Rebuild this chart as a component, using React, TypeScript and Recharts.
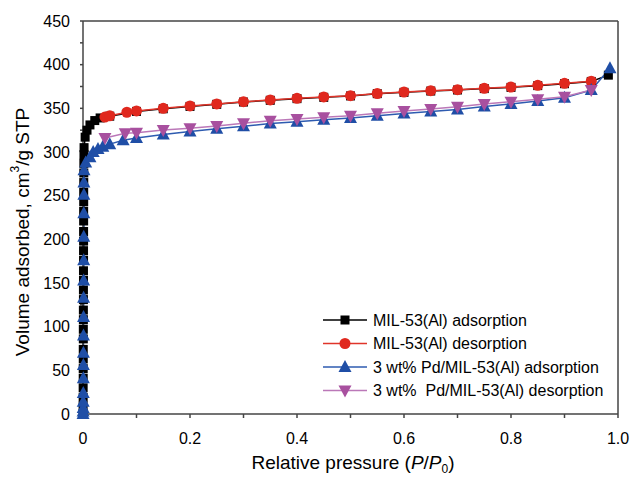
import React from 'react';
import { LineChart, Line, XAxis, YAxis, ReferenceLine } from 'recharts';

// ---- data (P/P0, volume adsorbed cm3/g STP) ----
const milAdsP = [0.0001, 0.0002, 0.0003, 0.0003, 0.0004, 0.0004, 0.0005, 0.0005, 0.0006, 0.0006, 0.0007, 0.0007, 0.0008, 0.0008, 0.0009, 0.0009, 0.001, 0.001, 0.0011, 0.0011, 0.0012, 0.0012, 0.0013, 0.0013, 0.0014, 0.0015, 0.0016, 0.0018, 0.002, 0.004, 0.0075, 0.013, 0.022, 0.032, 0.05, 0.1, 0.15, 0.2, 0.25, 0.3, 0.35, 0.4, 0.45, 0.5, 0.55, 0.6, 0.65, 0.7, 0.75, 0.8, 0.85, 0.9, 0.95, 0.982];
const milAdsV = [0, 9, 19, 30, 41, 52, 63, 74, 86, 97, 108, 119, 131, 142, 153, 164, 176, 187, 198, 209, 221, 232, 243, 254, 265, 276, 287, 297, 305, 317, 325, 331, 336, 339, 341, 346.5, 349.5, 352.2, 354.6, 357.2, 359.2, 361.1, 362.6, 364.2, 366.8, 368.3, 369.8, 371, 372.6, 374, 376, 378.2, 380.8, 388];

const milDesP = [0.041, 0.05, 0.082, 0.1, 0.15, 0.2, 0.25, 0.3, 0.35, 0.4, 0.45, 0.5, 0.55, 0.6, 0.65, 0.7, 0.75, 0.8, 0.85, 0.9, 0.95];
const milDesV = [340, 341.5, 345.5, 347, 350, 352.7, 355, 357.6, 359.6, 361.5, 363, 364.5, 367, 368.7, 370.2, 371.4, 373, 374.4, 376.4, 378.6, 381];

const pdAdsP = [0.0001, 0.0002, 0.0003, 0.0004, 0.0005, 0.0006, 0.0007, 0.0008, 0.0009, 0.001, 0.0011, 0.0012, 0.0013, 0.0014, 0.0015, 0.0016, 0.0017, 0.0019, 0.005, 0.013, 0.019, 0.028, 0.037, 0.05, 0.075, 0.1, 0.15, 0.2, 0.25, 0.3, 0.35, 0.4, 0.45, 0.5, 0.55, 0.6, 0.65, 0.7, 0.75, 0.8, 0.85, 0.9, 0.95, 0.985];
const pdAdsV = [0, 3, 7, 14, 24, 41, 56, 70, 90, 111, 133, 153, 176, 203, 230, 251, 265, 279, 288, 294, 300, 303.5, 306, 309, 313.5, 316, 320, 323.5, 326.5, 329.5, 332.5, 334.5, 337, 339, 341.5, 344, 346.5, 348.8, 352, 355, 358.5, 362, 371, 396];

const pdDesP = [0.041, 0.079, 0.1, 0.15, 0.2, 0.25, 0.3, 0.35, 0.4, 0.45, 0.5, 0.55, 0.6, 0.65, 0.7, 0.75, 0.8, 0.85, 0.9, 0.95];
const pdDesV = [316, 321.4, 322, 325.2, 327.1, 329.8, 332.9, 335.9, 337.8, 339.7, 341.6, 344.3, 346.9, 349.2, 351.9, 355, 357.6, 360.4, 363.3, 370.9];

const xTicks = [0, 0.1, 0.2, 0.3, 0.4, 0.5, 0.6, 0.7, 0.8, 0.9, 1.0];
const yTicks = [0, 25, 50, 75, 100, 125, 150, 175, 200, 225, 250, 275, 300, 325, 350, 375, 400, 425, 450];

const seriesNames = [
  'MIL-53(Al) adsorption',
  'MIL-53(Al) desorption',
  '3 wt% Pd/MIL-53(Al) adsorption',
  '3 wt%  Pd/MIL-53(Al) desorption',
];

const toPts = (ps: number[], vs: number[]) => ps.map((p, i) => ({ p, v: vs[i] }));
const milAds = toPts(milAdsP, milAdsV);
const milDes = toPts(milDesP, milDesV);
const pdAds = toPts(pdAdsP, pdAdsV);
const pdDes = toPts(pdDesP, pdDesV);

const C = {
  black: '#000000',
  red: '#e0281e',
  redLine: '#e0352a',
  blue: '#1f4ea6',
  blueLine: '#2e5bb0',
  purple: '#a8509f',
  purpleLine: '#bb78b8',
  axis: '#444444',
};

type Kind = 'square' | 'circle' | 'up' | 'down';

const Marker = ({ kind, cx, cy, color }: { kind: Kind; cx: number; cy: number; color: string }) => {
  if (kind === 'square') return <rect x={cx - 4.5} y={cy - 4.5} width={9} height={9} fill={color} />;
  if (kind === 'circle') return <circle cx={cx} cy={cy} r={5.5} fill={color} />;
  if (kind === 'up')
    return <polygon points={`${cx},${cy - 7} ${cx - 6.5},${cy + 5} ${cx + 6.5},${cy + 5}`} fill={color} />;
  return <polygon points={`${cx - 6.5},${cy - 5} ${cx + 6.5},${cy - 5} ${cx},${cy + 7}`} fill={color} />;
};

const dotFn = (kind: Kind, color: string) => (props: any) => {
  const { cx, cy, index } = props;
  if (cx == null || cy == null) return <g key={`n-${kind}-${index}`} />;
  return <Marker key={`${kind}-${index}`} kind={kind} cx={cx} cy={cy} color={color} />;
};

const legendItems: { kind: Kind; line: string; fill: string }[] = [
  { kind: 'square', line: C.black, fill: C.black },
  { kind: 'circle', line: C.redLine, fill: C.red },
  { kind: 'up', line: C.blueLine, fill: C.blue },
  { kind: 'down', line: C.purpleLine, fill: C.purple },
];

const fontFam = 'Arial, "Liberation Sans", Helvetica, sans-serif';

export default function App() {
  const tickStyle = { fontSize: 16, fill: '#000', fontFamily: fontFam };
  return (
    <div style={{ position: 'absolute', left: 0, top: 0, width: 630, height: 478, background: '#fff' }}>
      <LineChart width={630} height={478} margin={{ top: 21, right: 12, bottom: 0, left: 0 }}>
        <XAxis
          type="number"
          dataKey="p"
          domain={[0, 1]}
          ticks={xTicks}
          tickFormatter={(v: number) => {
            const k = Math.round(v * 10);
            if (k % 2 !== 0) return '';
            return k === 0 ? '0' : v.toFixed(1);
          }}
          height={64}
          tickSize={4}
          tickMargin={15}
          stroke={C.axis}
          strokeWidth={1.5}
          tick={tickStyle}
        />
        <YAxis
          type="number"
          domain={[0, 450]}
          ticks={yTicks}
          tickFormatter={(v: number) => (v % 50 === 0 ? String(v) : '')}
          width={83}
          tickSize={3}
          tickMargin={10}
          stroke={C.axis}
          strokeWidth={1.5}
          tick={tickStyle}
        />
        <ReferenceLine y={450} stroke={C.axis} strokeWidth={1.5} />
        <ReferenceLine x={1} stroke={C.axis} strokeWidth={1.5} />
        <Line data={milAds} dataKey="v" type="linear" stroke={C.black} strokeWidth={1.5} dot={dotFn('square', C.black)} isAnimationActive={false} />
        <Line data={milDes} dataKey="v" type="linear" stroke={C.redLine} strokeWidth={1.5} dot={dotFn('circle', C.red)} isAnimationActive={false} />
        <Line data={pdAds} dataKey="v" type="linear" stroke={C.blueLine} strokeWidth={1.5} dot={dotFn('up', C.blue)} isAnimationActive={false} />
        <Line data={pdDes} dataKey="v" type="linear" stroke={C.purpleLine} strokeWidth={1.5} dot={dotFn('down', C.purple)} isAnimationActive={false} />
      </LineChart>
      <svg width={630} height={478} style={{ position: 'absolute', left: 0, top: 0, pointerEvents: 'none' }}>
        <text x={22} y={232} transform="rotate(-90 22 232)" textAnchor="middle" dominantBaseline="central" fontSize={19} fontFamily={fontFam} fill="#000">
          Volume adsorbed, cm<tspan dy={-7} fontSize={12}>3</tspan>
          <tspan dy={7}>/g STP</tspan>
        </text>
        <text x={353} y={469} textAnchor="middle" fontSize={19} fontFamily={fontFam} fill="#000">
          Relative pressure (<tspan fontStyle="italic">P</tspan>/<tspan fontStyle="italic">P</tspan>
          <tspan dy={4} fontSize={12}>0</tspan>
          <tspan dy={-4}>)</tspan>
        </text>
        {seriesNames.map((name, i) => {
          const cy = 320 + i * 23.5;
          const it = legendItems[i];
          return (
            <g key={name}>
              <line x1={323} x2={367} y1={cy} y2={cy} stroke={it.line} strokeWidth={1.5} />
              <Marker kind={it.kind} cx={345} cy={cy} color={it.fill} />
              <text x={373} y={cy} dominantBaseline="central" fontSize={16} fontFamily={fontFam} fill="#000" style={{ whiteSpace: 'pre' }}>
                {name}
              </text>
            </g>
          );
        })}
      </svg>
    </div>
  );
}
